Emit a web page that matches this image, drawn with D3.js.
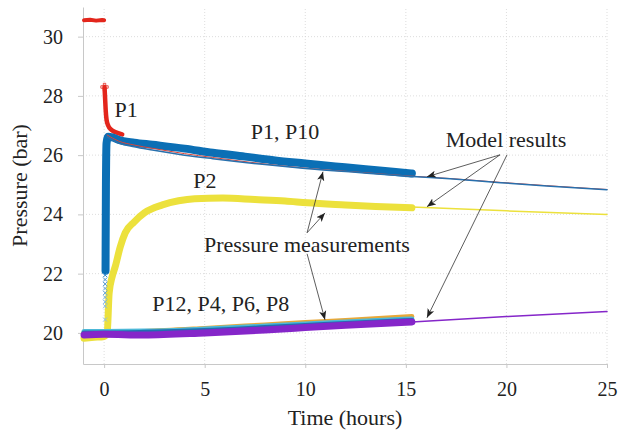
<!DOCTYPE html>
<html>
<head>
<meta charset="utf-8">
<script src="https://cdn.jsdelivr.net/npm/d3@7"></script>
<style>
  body { margin: 0; background: #fff; }
  svg text { font-family: "Liberation Serif", "Times New Roman", serif; fill: #222; }
</style>
</head>
<body>
<div id="chart"></div>
<script>
// ---- data (hours, bar) ----
var xTicks = [0, 5, 10, 15, 20, 25];
var yTicks = [20, 22, 24, 26, 28, 30];

// P1 before the step
var p1PreT = [-1.0, -0.7, -0.4, -0.1, 0.0];
var p1PreP = [30.55, 30.57, 30.54, 30.56, 30.55];
// P1 after the step
var p1T = [0.02, 0.05, 0.08, 0.12, 0.2, 0.35, 0.55, 0.9];
var p1P = [28.3, 27.9, 27.5, 27.2, 27.0, 26.86, 26.78, 26.7];

// P10 rise, sparse samples
var p10RiseT = [0.05, 0.05, 0.05, 0.05, 0.05, 0.05, 0.05, 0.05, 0.05];
var p10RiseP = [20.45, 20.9, 21.05, 21.2, 21.35, 21.5, 21.65, 21.8, 21.95];
// P10 dense
var p10T = [0.07, 0.09, 0.12, 0.2, 0.4, 0.7, 1.5, 2.4, 4.0, 5.4, 7.0, 8.5, 10.0, 11.5, 13.0, 14.5, 15.3];
var p10P = [22.1, 25.0, 26.4, 26.62, 26.6, 26.52, 26.42, 26.35, 26.22, 26.08, 25.95, 25.82, 25.72, 25.62, 25.52, 25.43, 25.38];

// P2
var p2T = [-1.0, -0.5, 0.0, 0.15, 0.25, 0.4, 0.55, 0.8, 1.05, 1.5, 2.0, 2.9, 3.7, 4.5, 5.9, 7.5, 9.0, 10.1, 12.0, 13.5, 15.3];
var p2P = [19.82, 19.85, 19.88, 19.98, 21.35, 21.9, 22.23, 22.9, 23.38, 23.75, 24.05, 24.32, 24.46, 24.53, 24.55, 24.5, 24.45, 24.39, 24.32, 24.27, 24.22];

// P12, P4, P6, P8
var lowT = [-1.0, 0.0, 2.0, 5.0, 8.0, 10.0, 12.0, 15.3];
var p12P = [20.02, 20.02, 20.05, 20.15, 20.27, 20.35, 20.42, 20.55];
var p4P = [20.05, 20.05, 20.06, 20.13, 20.23, 20.30, 20.37, 20.47];
var p6P = [20.00, 20.00, 20.02, 20.08, 20.18, 20.25, 20.32, 20.42];
var p8P = [19.93, 19.95, 19.93, 20.00, 20.10, 20.18, 20.26, 20.37];

// model results
var modelT = [0.15, 0.7, 1.5, 2.4, 4.0, 5.4, 8.0, 10.0, 12.5, 15.3, 17.2, 19.7, 22.0, 25.0];
var modelP1 = [26.68, 26.48, 26.34, 26.23, 26.05, 25.92, 25.70, 25.56, 25.43, 25.29, 25.21, 25.08, 24.97, 24.84];
var modelP10 = [26.62, 26.42, 26.28, 26.17, 26.0, 25.88, 25.68, 25.55, 25.42, 25.28, 25.2, 25.07, 24.96, 24.83];
var modelP2T = [15.3, 20.0, 25.0];
var modelP2 = [24.25, 24.12, 24.0];
var modelP8T = [15.3, 20.0, 25.0];
var modelP8 = [20.37, 20.55, 20.72];

// annotations: text, t, p (baseline centre)
var labelText = ["P1", "P1, P10", "P2", "Pressure measurements", "P12, P4, P6, P8", "Model results"];
var labelT = [1.09, 8.99, 5.01, 10.08, 5.8, 19.98];
var labelP = [27.29, 26.54, 24.89, 22.73, 20.74, 26.27];

// arrows: from (t0,p0) to (t1,p1)
var arrowT0 = [10.09, 10.09, 10.09, 19.68, 19.68, 20.03];
var arrowP0 = [23.38, 23.38, 22.67, 26.01, 26.01, 26.01];
var arrowT1 = [10.88, 10.98, 10.98, 16.05, 16.05, 16.05];
var arrowP1 = [25.44, 24.05, 20.44, 25.27, 24.26, 20.51];

// ---- chart ----
var width = 619, height = 436;
var margin = {left: 83, right: 12, top: 7, bottom: 72};

var svg = d3.select("#chart").append("svg")
    .attr("width", width)
    .attr("height", height);

var x = d3.scaleLinear().domain([-1.05, 25]).range([margin.left, width - margin.right]);
var y = d3.scaleLinear().domain([18.95, 31.0]).range([height - margin.bottom, margin.top]);

var zip = (ts, ps) => ts.map((t, i) => [t, ps[i]]);
var line = d3.line().x(d => x(d[0])).y(d => y(d[1]));
var smooth = d3.line().x(d => x(d[0])).y(d => y(d[1])).curve(d3.curveMonotoneX);

// grid
var grid = svg.append("g").attr("stroke", "#d4d4d4").attr("stroke-dasharray", "1,2").attr("stroke-width", 0.8);
grid.selectAll(".gx").data(xTicks).join("line")
    .attr("x1", d => x(d)).attr("x2", d => x(d))
    .attr("y1", y.range()[0]).attr("y2", y.range()[1]);
grid.selectAll(".gy").data(yTicks).join("line")
    .attr("y1", d => y(d)).attr("y2", d => y(d))
    .attr("x1", x.range()[0]).attr("x2", x.range()[1]);

// axes
var xAxis = svg.append("g")
    .attr("transform", `translate(0,${y.range()[0]})`)
    .call(d3.axisBottom(x).tickValues(xTicks).tickSize(4).tickSizeOuter(0).tickPadding(14));
var yAxis = svg.append("g")
    .attr("transform", `translate(${x.range()[0]},0)`)
    .call(d3.axisLeft(y).tickValues(yTicks).tickSize(5).tickSizeOuter(0).tickPadding(15));
[xAxis, yAxis].forEach(a => {
    a.select(".domain").attr("stroke", "#c8c8c8");
    a.selectAll(".tick line").attr("stroke", "#c8c8c8");
    a.selectAll(".tick text")
        .style("font-family", "'Liberation Serif', serif")
        .style("font-size", "20px")
        .attr("fill", "#2a2a2a");
});

svg.append("text")
    .attr("x", (x.range()[0] + x.range()[1]) / 2)
    .attr("y", 425)
    .attr("text-anchor", "middle")
    .style("font-size", "22px")
    .text("Time (hours)");
svg.append("text")
    .attr("transform", `translate(27,${(y.range()[0] + y.range()[1]) / 2}) rotate(-90)`)
    .attr("text-anchor", "middle")
    .style("font-size", "22px")
    .text("Pressure (bar)");

// measurement bands
var plot = svg.append("g").attr("fill", "none").attr("stroke-linejoin", "round").attr("stroke-linecap", "round");

plot.append("path").datum(zip(p1PreT, p1PreP)).attr("d", line)
    .attr("stroke", "#e3261c").attr("stroke-width", 4);

// P2 (yellow)
plot.append("path").datum(zip(p2T, p2P)).attr("d", smooth)
    .attr("stroke", "#ece13c").attr("stroke-width", 7);

// low group
var lowColors = ["#e8a838", "#4cb8d8", "#1f6fb0", "#8526c9"];
var lowWidths = [5, 5, 5, 7];
[p12P, p4P, p6P, p8P].forEach((ps, i) => {
    plot.append("path").datum(zip(lowT, ps)).attr("d", smooth)
        .attr("stroke", lowColors[i]).attr("stroke-width", lowWidths[i]);
});

// P1 (red) decay
plot.append("path").datum(zip(p1T, p1P)).attr("d", smooth)
    .attr("stroke", "#e3261c").attr("stroke-width", 4.5);
svg.append("path")
    .attr("d", d3.symbol(d3.symbolCross, 30)())
    .attr("transform", `translate(${x(p1T[0])},${y(p1P[0])})`)
    .attr("fill", "none").attr("stroke", "#e3261c").attr("stroke-width", 0.8);

// P10 (blue)
plot.append("path").datum(zip(p10T, p10P)).attr("d", smooth)
    .attr("stroke", "#0b6fb5").attr("stroke-width", 8);
svg.append("g").selectAll("path").data(zip(p10RiseT, p10RiseP)).join("path")
    .attr("d", "M-2,-2L2,2M-2,2L2,-2")
    .attr("transform", d => `translate(${x(d[0])},${y(d[1])})`)
    .attr("stroke", (d, i) => d3.interpolateRgb("#8fc0e6", "#3b8ccc")(i / (p10RiseP.length - 1)))
    .attr("stroke-width", 1);

// model lines
plot.append("path").datum(zip(modelT, modelP1)).attr("d", smooth)
    .attr("stroke", "#d8453a").attr("stroke-width", 1);
plot.append("path").datum(zip(modelT, modelP10)).attr("d", smooth)
    .attr("stroke", "#2870ad").attr("stroke-width", 1.5);
plot.append("path").datum(zip(modelP2T, modelP2)).attr("d", line)
    .attr("stroke", "#ece13c").attr("stroke-width", 1.5);
plot.append("path").datum(zip(modelP8T, modelP8)).attr("d", line)
    .attr("stroke", "#8526c9").attr("stroke-width", 1.5);

// arrows
svg.append("defs").append("marker")
    .attr("id", "arrow")
    .attr("viewBox", "0 0 10 10")
    .attr("refX", 10).attr("refY", 5)
    .attr("markerWidth", 9).attr("markerHeight", 9)
    .attr("markerUnits", "userSpaceOnUse")
    .attr("orient", "auto")
    .append("path").attr("d", "M0,1L10,5L0,9L2.5,5Z").attr("fill", "#222");

svg.append("g").selectAll("line").data(arrowT0).join("line")
    .attr("x1", (d, i) => x(arrowT0[i])).attr("y1", (d, i) => y(arrowP0[i]))
    .attr("x2", (d, i) => x(arrowT1[i])).attr("y2", (d, i) => y(arrowP1[i]))
    .attr("stroke", "#333").attr("stroke-width", 0.8)
    .attr("marker-end", "url(#arrow)");

// labels
svg.append("g").selectAll("text").data(labelText).join("text")
    .attr("x", (d, i) => x(labelT[i]))
    .attr("y", (d, i) => y(labelP[i]))
    .attr("text-anchor", "middle")
    .style("font-size", "22px")
    .text(d => d);
</script>
</body>
</html>
